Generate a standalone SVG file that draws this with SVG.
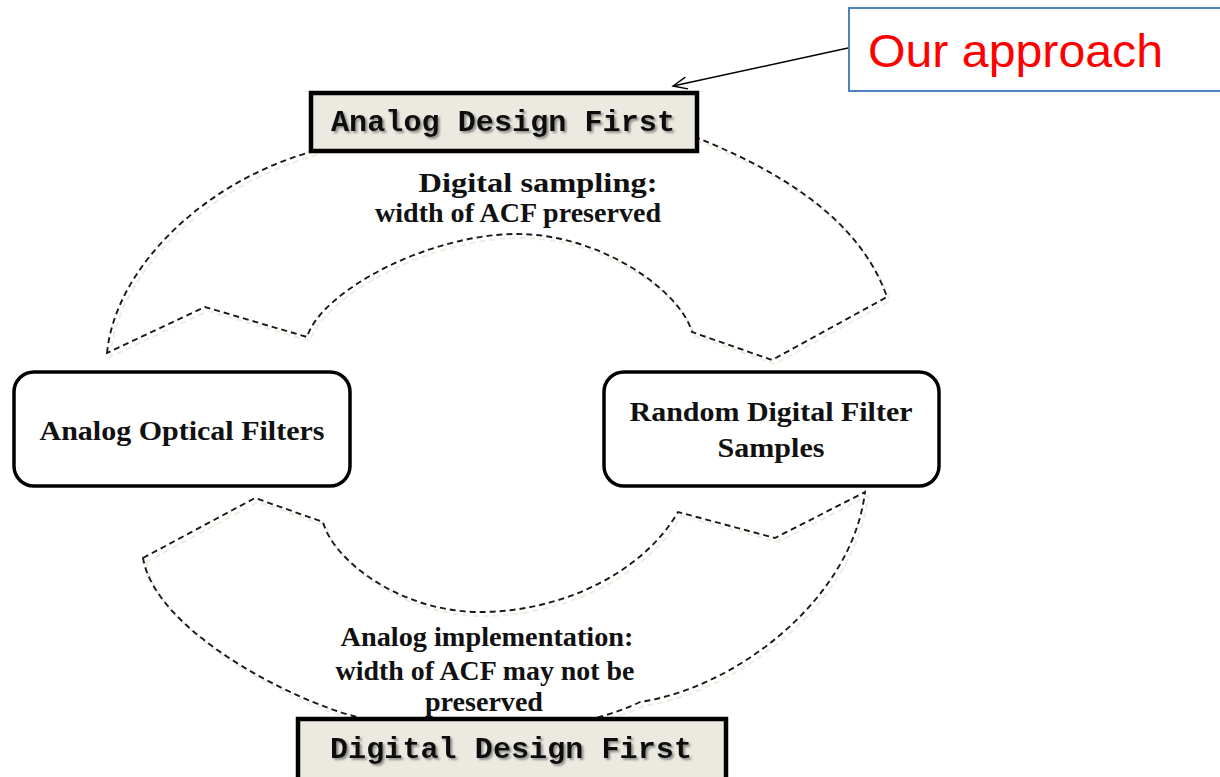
<svg xmlns="http://www.w3.org/2000/svg" width="1220" height="777" viewBox="0 0 1220 777">
<style>
.dash{fill:none;stroke:#1a1a1a;stroke-width:1.9;stroke-dasharray:6 4;}
.dashsh{fill:none;stroke:#eeece1;stroke-width:2;stroke-dasharray:6 4;}
.hdr{fill:#eceae0;stroke:#000;stroke-width:4.5;}
.hdrt{font-family:"Liberation Mono","Courier New",monospace;font-weight:bold;font-size:30px;fill:#111;text-anchor:middle;filter:url(#ts);}
.nd{fill:#fff;stroke:#000;stroke-width:3.5;}
.ndt{font-family:"Liberation Serif","Times New Roman",serif;font-weight:bold;font-size:28px;fill:#111;text-anchor:middle;}
.lbl{font-family:"Liberation Serif","Times New Roman",serif;font-weight:bold;font-size:27px;fill:#111;text-anchor:middle;}
</style>
<defs>
<filter id="ts" x="-10%" y="-30%" width="120%" height="160%">
<feDropShadow dx="2" dy="2" stdDeviation="1" flood-color="#666" flood-opacity="0.7"/>
</filter>
<marker id="ah" markerWidth="18" markerHeight="14" refX="16" refY="7" orient="auto" markerUnits="userSpaceOnUse">
<path d="M2,1 L16,7 L2,13" fill="none" stroke="#000" stroke-width="1.4"/>
</marker>
</defs>
<rect width="1220" height="777" fill="#fff"/>
<g id="connectors">
<g transform="translate(3,4)">
<path class="dashsh" d="M107,353 C115,270 200,185 307,153 C397,117 624,108 700,139 C776,170 859,217 887,297 L772,360 L692,332 C680,290 600,234 517,234 C430,234 322,290 307,337 L205,307 Z"/>
<path class="dashsh" d="M143,558 L255,498 L323,522 C333,560 400,612 480,612 C560,612 642,574 678,512 L775,538 L865,492 C852,600 735,688 640,702 C560,740 430,740 357,717 C290,700 155,630 143,558 Z"/>
</g>
<path id="arc-top" class="dash" d="M107,353 C115,270 200,185 307,153 C397,117 624,108 700,139 C776,170 859,217 887,297 L772,360 L692,332 C680,290 600,234 517,234 C430,234 322,290 307,337 L205,307 Z"/>
<path id="arc-bottom" class="dash" d="M143,558 L255,498 L323,522 C333,560 400,612 480,612 C560,612 642,574 678,512 L775,538 L865,492 C852,600 735,688 640,702 C560,740 430,740 357,717 C290,700 155,630 143,558 Z"/>
<line x1="848" y1="48" x2="673" y2="86" stroke="#000" stroke-width="1.4" marker-end="url(#ah)"/>
</g>
<g id="label-top">
<text class="lbl" x="538" y="192" textLength="239" lengthAdjust="spacingAndGlyphs">Digital sampling:</text>
<text class="lbl" x="518" y="222" textLength="286" lengthAdjust="spacingAndGlyphs">width of ACF preserved</text>
</g>
<g id="label-bottom">
<text class="lbl" x="487" y="646" textLength="293" lengthAdjust="spacingAndGlyphs">Analog implementation:</text>
<text class="lbl" x="485" y="680" textLength="299" lengthAdjust="spacingAndGlyphs">width of ACF may not be</text>
<text class="lbl" x="484" y="711" textLength="118" lengthAdjust="spacingAndGlyphs">preserved</text>
</g>
<g id="node-analog-design-first">
<rect class="hdr" x="311" y="93" width="386" height="58"/>
<text class="hdrt" x="503" y="131" textLength="344" lengthAdjust="spacingAndGlyphs">Analog Design First</text>
</g>
<g id="node-digital-design-first">
<rect class="hdr" x="298" y="719" width="428" height="64"/>
<text class="hdrt" x="511" y="758" textLength="362" lengthAdjust="spacingAndGlyphs">Digital Design First</text>
</g>
<g id="node-analog-optical-filters">
<rect class="nd" x="14" y="372" width="336" height="114" rx="20"/>
<text class="ndt" x="182" y="440" textLength="285" lengthAdjust="spacingAndGlyphs">Analog Optical Filters</text>
</g>
<g id="node-random-digital">
<rect class="nd" x="604" y="372" width="335" height="114" rx="20"/>
<text class="ndt" x="771" y="421" textLength="283" lengthAdjust="spacingAndGlyphs">Random Digital Filter</text>
<text class="ndt" x="771" y="457" textLength="107" lengthAdjust="spacingAndGlyphs">Samples</text>
</g>
<g id="node-our-approach">
<rect x="849" y="8" width="380" height="83" fill="#fff" stroke="#4f81bd" stroke-width="2"/>
<text x="868" y="67" font-family="'Liberation Sans',Arial,sans-serif" font-size="47" fill="#ff0000" textLength="295" lengthAdjust="spacingAndGlyphs">Our approach</text>
</g>
</svg>
